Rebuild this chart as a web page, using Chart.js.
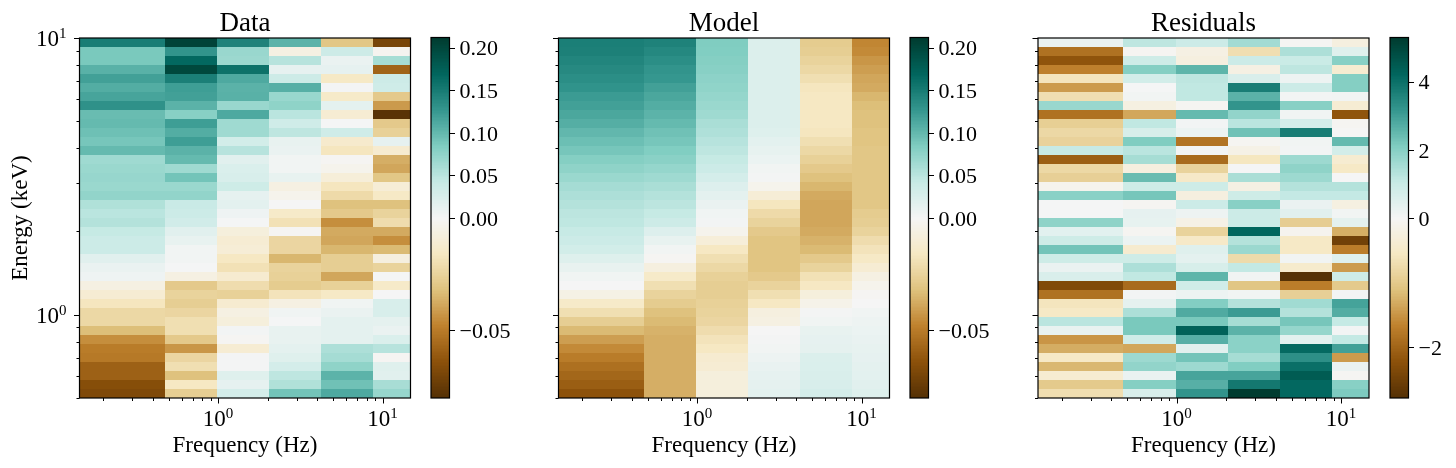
<!DOCTYPE html>
<html>
<head>
<meta charset="utf-8">
<title>Energy-frequency spectra</title>
<script src="https://cdn.jsdelivr.net/npm/chart.js@4/dist/chart.umd.min.js"></script>
<style>
    body { margin: 0; background: #fff; width: 1456px; height: 468px; position: relative; overflow: hidden; }
    canvas { position: absolute; top: 0; }
</style>
</head>
<body>
<canvas id="dataChart" width="425" height="468" style="left:0"></canvas>
<canvas id="dataBar" width="125" height="468" style="left:425px"></canvas>
<canvas id="modelChart" width="360" height="468" style="left:545px"></canvas>
<canvas id="modelBar" width="125" height="468" style="left:905px"></canvas>
<canvas id="residChart" width="345" height="468" style="left:1030px"></canvas>
<canvas id="residBar" width="76" height="468" style="left:1380px"></canvas>
<script>
// Bin edges of the spectra
const freqEdges = [0.1435, 0.474, 0.983, 2.04, 4.23, 8.76, 14.74];
const energyEdges = [10, 9.2794, 8.6098, 7.9885, 7.412, 6.8771, 6.3809, 5.9204, 5.4932, 5.0968,
    4.729, 4.3877, 4.0711, 3.7774, 3.5048, 3.2519, 3.0172, 2.7995, 2.5975, 2.41,
    2.2361, 2.0747, 1.925, 1.7861, 1.6572, 1.5377, 1.4267, 1.3237, 1.2282, 1.1396,
    1.0574, 0.9811, 0.9103, 0.8446, 0.7836, 0.7271, 0.6746, 0.6259, 0.5808, 0.5389, 0.5];

// Axis ticks
const freqTicks = [0.2, 0.3, 0.4, 0.5, 0.6, 0.7, 0.8, 0.9, 1, 2, 3, 4, 5, 6, 7, 8, 9, 10];
const energyTicks = [0.5, 0.6, 0.7, 0.8, 0.9, 1, 2, 3, 4, 5, 6, 7, 8, 9, 10];
const lagTicks = [-0.05, 0, 0.05, 0.1, 0.15, 0.2];
const lagTickLabels = ['\u22120.05', '0.00', '0.05', '0.10', '0.15', '0.20'];
const residTicks = [-2, 0, 2, 4];
const residTickLabels = ['\u22122', '0', '2', '4'];
const powerExponents = { 1: '0', 10: '1' };

// Colour limits
const lagRange = [-0.0804, 0.212];
const residRange = [-2.79, 5.3];

// One row per energy bin, highest energy first, one column per frequency bin
const dataValues = [
    [0.15, 0.205, 0.145, 0.105, -0.03, -0.07],
    [0.088, 0.13, 0.07, -0.006, 0.037, -0.002],
    [0.088, 0.168, 0.068, 0.052, 0.01, 0.062],
    [0.107, 0.2, 0.16, 0.014, 0.014, -0.058],
    [0.12, 0.148, 0.113, 0.037, -0.015, 0.037],
    [0.11, 0.122, 0.106, 0.108, 0.002, 0.035],
    [0.117, 0.12, 0.107, 0.07, -0.014, -0.029],
    [0.132, 0.106, 0.07, 0.076, 0.016, -0.042],
    [0.098, 0.08, 0.113, 0.05, -0.011, -0.079],
    [0.1, 0.122, 0.066, 0.035, 0.001, -0.029],
    [0.095, 0.11, 0.066, 0.048, 0.035, -0.026],
    [0.09, 0.122, 0.032, 0.012, -0.013, 0.014],
    [0.1, 0.106, 0.052, 0.01, -0.017, -0.012],
    [0.066, 0.1, 0.018, 0.004, -0.001, -0.037],
    [0.069, 0.066, 0.025, 0.004, -0.003, -0.039],
    [0.071, 0.092, 0.027, 0.012, -0.009, -0.03],
    [0.069, 0.069, 0.036, -0.006, -0.017, -0.01],
    [0.074, 0.074, 0.014, -0.003, -0.022, -0.015],
    [0.056, 0.041, 0.017, 0, -0.032, -0.032],
    [0.05, 0.038, 0.006, -0.014, -0.029, -0.025],
    [0.054, 0.033, 0.001, -0.019, -0.045, -0.021],
    [0.043, 0.018, -0.008, -0.001, -0.038, -0.038],
    [0.038, 0.012, -0.011, -0.024, -0.039, -0.045],
    [0.038, 0.004, -0.01, -0.024, -0.035, -0.034],
    [0.018, 0.004, -0.016, -0.035, -0.027, -0.007],
    [0.01, 0.001, -0.019, -0.025, -0.027, -0.025],
    [0.006, -0.006, -0.012, -0.026, -0.039, 0.001],
    [-0.006, -0.029, -0.021, -0.028, -0.026, -0.014],
    [-0.011, -0.025, -0.026, -0.018, -0.015, 0],
    [-0.017, -0.027, -0.012, -0.006, 0.005, 0.027],
    [-0.023, -0.024, -0.006, 0.005, 0.01, 0.027],
    [-0.023, -0.02, -0.008, 0.001, 0.016, 0.015],
    [-0.033, -0.02, 0.003, 0.012, 0.016, 0.01],
    [-0.045, -0.029, -0.001, 0.012, 0.016, 0.025],
    [-0.05, -0.043, -0.011, 0.016, 0.058, 0.052],
    [-0.051, -0.024, 0.002, 0.02, 0.063, -0.001],
    [-0.059, -0.02, 0.002, 0.03, 0.076, 0.02],
    [-0.059, -0.032, 0.02, 0.048, 0.105, 0.018],
    [-0.066, -0.016, 0.014, 0.056, 0.094, 0.061],
    [-0.068, -0.027, 0.03, 0.092, 0.113, 0.071]
];

const modelValues = [
    [0.148, 0.145, 0.085, 0.023, -0.028, -0.047],
    [0.147, 0.14, 0.084, 0.023, -0.027, -0.046],
    [0.143, 0.135, 0.082, 0.023, -0.025, -0.043],
    [0.139, 0.13, 0.08, 0.023, -0.023, -0.041],
    [0.135, 0.127, 0.077, 0.023, -0.02, -0.039],
    [0.131, 0.12, 0.075, 0.023, -0.017, -0.038],
    [0.124, 0.115, 0.072, 0.023, -0.016, -0.035],
    [0.12, 0.11, 0.069, 0.023, -0.016, -0.033],
    [0.115, 0.105, 0.066, 0.023, -0.016, -0.032],
    [0.109, 0.1, 0.06, 0.023, -0.016, -0.032],
    [0.102, 0.094, 0.057, 0.021, -0.017, -0.031],
    [0.096, 0.09, 0.052, 0.017, -0.02, -0.031],
    [0.09, 0.084, 0.048, 0.013, -0.023, -0.03],
    [0.082, 0.079, 0.043, 0.009, -0.026, -0.03],
    [0.076, 0.072, 0.038, 0.004, -0.029, -0.03],
    [0.069, 0.066, 0.03, 0.002, -0.032, -0.03],
    [0.063, 0.06, 0.022, -0.003, -0.035, -0.03],
    [0.058, 0.054, 0.016, -0.01, -0.038, -0.03],
    [0.054, 0.049, 0.01, -0.017, -0.039, -0.03],
    [0.049, 0.043, 0.005, -0.022, -0.039, -0.028],
    [0.047, 0.037, 0.003, -0.025, -0.039, -0.027],
    [0.042, 0.022, -0.003, -0.029, -0.038, -0.025],
    [0.038, 0.012, -0.009, -0.031, -0.036, -0.021],
    [0.032, 0.004, -0.016, -0.031, -0.034, -0.018],
    [0.021, -0.001, -0.02, -0.031, -0.029, -0.015],
    [0.012, -0.007, -0.023, -0.031, -0.025, -0.011],
    [0.005, -0.014, -0.026, -0.029, -0.019, -0.006],
    [0, -0.02, -0.027, -0.025, -0.016, -0.003],
    [-0.005, -0.025, -0.027, -0.02, -0.008, -0.001],
    [-0.014, -0.028, -0.026, -0.016, -0.004, 0],
    [-0.02, -0.032, -0.025, -0.007, 0.002, 0.005],
    [-0.027, -0.034, -0.024, -0.006, 0.005, 0.007],
    [-0.034, -0.036, -0.021, 0, 0.012, 0.009],
    [-0.041, -0.037, -0.018, 0.002, 0.014, 0.011],
    [-0.046, -0.037, -0.016, 0.004, 0.015, 0.013],
    [-0.05, -0.037, -0.012, 0.007, 0.024, 0.014],
    [-0.054, -0.037, -0.011, 0.011, 0.025, 0.016],
    [-0.057, -0.037, -0.008, 0.014, 0.026, 0.017],
    [-0.06, -0.037, -0.008, 0.015, 0.027, 0.018],
    [-0.064, -0.037, -0.008, 0.017, 0.03, 0.021]
];

const residValues = [
    [0.25, 1.2, 0.95, 1.6, -0.03, -0.25],
    [-1.85, -0.05, -0.2, -0.7, 1.45, 0.5],
    [-2.2, 0.9, -0.25, 0.95, 1, 2],
    [-1.68, 2.05, 2.6, -0.2, 1.2, -0.4],
    [-0.6, 0.8, 1.2, 0.65, 0.18, 2.05],
    [-1.45, 0.03, 1.15, 3.75, 0.95, 2.05],
    [-0.7, 0.1, 1.15, 2.65, 0.08, 0.1],
    [1.75, -0.22, -0.05, 3.25, 2, -0.38],
    [-1.85, -1.35, 2.5, 1.85, 0.12, -2.2],
    [-0.93, 1.15, 0.08, 1.25, 0.75, -0.05],
    [-0.8, 0.7, 0.2, 2.35, 3.75, -0.01],
    [-0.88, 2.12, -1.82, -0.05, 0.1, 2.5],
    [1.05, 1.25, 0.08, -0.17, 0.08, 0.78],
    [-2.07, 1.55, -1.93, -0.58, 1.68, -0.4],
    [-0.8, -0.25, -0.87, 0.02, 1.9, -0.52],
    [-0.92, 2.45, -0.5, 1.5, 1.68, 0],
    [-0.1, 0.9, 0.9, -0.2, 1.35, 1.35],
    [1.97, 2.25, -0.25, 0.9, 1.1, 1.1],
    [0.02, -0.05, 0.95, 2, 0.25, -0.22],
    [0.02, 0.35, 0.18, 0.95, 0.45, 0.1],
    [1.9, 0.32, -0.17, 0.95, -0.95, 0.4],
    [0.43, -0.05, -0.87, 4.25, -0.08, -1.28],
    [0.9, 0.22, -0.5, 1.35, -0.52, -2.5],
    [2.3, -0.42, 0.5, 1.72, -0.52, -1.72],
    [0.9, 0.9, 0.4, -0.75, 0.1, 0.5],
    [0.25, 1.45, 0.7, 1.1, -0.45, -1.45],
    [0.65, 1.15, 2.6, 0.1, -2.78, 0.9],
    [-2.35, -1.93, 0.85, -1.06, -1.72, -1],
    [-1.85, 0.07, 0.2, 0.1, -0.92, 0.08],
    [-0.6, 0.37, 2.07, 1.35, 1.62, 2.95],
    [-0.52, 1.45, 2.8, 3.1, 1.35, 2.75],
    [1.25, 2.2, 2.2, 1.55, 2.25, 1.07],
    [0.3, 2.2, 4.35, 2.65, 1.8, 0.08],
    [-1.5, 0.88, 2.7, 1.95, 0.43, 1.1],
    [-1.3, -1.35, 0.47, 1.95, 4.18, 3],
    [-0.52, 1.68, 2.3, 1.55, 3.35, -1.45],
    [-1.2, 1.85, 1.68, 2.1, 4.05, 0.25],
    [-0.4, 0.25, 2.92, 2.92, 4.5, -0.03],
    [-1, 2.05, 2.7, 3.85, 4.2, 2],
    [-0.7, 0.65, 3.25, 5.3, 4.2, 2.15]
];

// BrBG colormap anchors
const brbgColors = [
    [84, 48, 5], [140, 81, 10], [191, 129, 45], [223, 194, 125], [246, 232, 195], [245, 245, 245],
    [199, 234, 229], [128, 205, 193], [53, 151, 143], [1, 102, 94], [0, 60, 48]
];

const SERIF = '"Liberation Serif", serif';
const INK = '#000';

function brbg(t) {
    const pos = Math.min(Math.max(t, 0), 1) * (brbgColors.length - 1);
    const i = Math.min(Math.floor(pos), brbgColors.length - 2);
    const f = pos - i;
    const c = brbgColors[i].map((a, k) => Math.round(a + (brbgColors[i + 1][k] - a) * f));
    return `rgb(${c[0]},${c[1]},${c[2]})`;
}

// Two-slope normalisation, zero sits in the middle of the colour range
function twoSlope(v, range) {
    return v < 0 ? 0.5 - 0.5 * v / range[0] : 0.5 + 0.5 * v / range[1];
}

// Tick marks are drawn by hand so major and minor ones can differ in length
function drawTicks(chart, scale) {
    const { ctx, chartArea } = chart;
    ctx.save();
    ctx.strokeStyle = INK;
    ctx.lineWidth = 1;
    scale.ticks.forEach(tick => {
        const len = tick.major ? 5.5 : 3;
        const p = Math.round(scale.getPixelForValue(tick.value)) + 0.5;
        ctx.beginPath();
        if (scale.axis === 'x') {
            ctx.moveTo(p, chartArea.bottom);
            ctx.lineTo(p, chartArea.bottom + len);
        } else if (scale.position === 'left') {
            ctx.moveTo(chartArea.left, p);
            ctx.lineTo(chartArea.left - len, p);
        } else {
            ctx.moveTo(chartArea.right, p);
            ctx.lineTo(chartArea.right + len, p);
        }
        ctx.stroke();
    });
    ctx.restore();
}

function drawFrame(chart) {
    const { ctx, chartArea } = chart;
    ctx.save();
    ctx.strokeStyle = INK;
    ctx.lineWidth = 1.2;
    ctx.strokeRect(chartArea.left, chartArea.top, chartArea.right - chartArea.left, chartArea.bottom - chartArea.top);
    ctx.restore();
}

// 10^n labels, the tick callback can't do a raised exponent
function drawPowerLabels(chart, scale) {
    const { ctx } = chart;
    ctx.save();
    ctx.fillStyle = INK;
    ctx.textBaseline = 'alphabetic';
    ctx.textAlign = 'left';
    scale.ticks.filter(tick => tick.major).forEach(tick => {
        const p = scale.getPixelForValue(tick.value);
        const left = scale.axis === 'x' ? p - 15.5 : 36;
        const base = scale.axis === 'x' ? 426 : p + 8;
        ctx.font = `23px ${SERIF}`;
        ctx.fillText('10', left, base);
        ctx.font = `15px ${SERIF}`;
        ctx.fillText(powerExponents[tick.value], left + 23, base - 8);
    });
    ctx.restore();
}

// Paints each cell of the scatter dataset as a rectangle between its bin edges
const meshPlugin = {
    id: 'mesh',
    afterDatasetsDraw(chart) {
        const { ctx, scales: { x, y } } = chart;
        const range = chart.options.plugins.mesh.range;
        chart.data.datasets[0].data.forEach(cell => {
            const left = Math.round(x.getPixelForValue(cell.x0));
            const right = Math.round(x.getPixelForValue(cell.x1));
            const top = Math.round(y.getPixelForValue(cell.y1));
            const bottom = Math.round(y.getPixelForValue(cell.y0));
            ctx.fillStyle = brbg(twoSlope(cell.v, range));
            ctx.fillRect(left, top, right - left, bottom - top);
        });
    },
    afterDraw(chart) {
        const { x, y } = chart.scales;
        drawTicks(chart, x);
        drawTicks(chart, y);
        drawFrame(chart);
        drawPowerLabels(chart, x);
        if (chart.options.plugins.mesh.energyLabels) drawPowerLabels(chart, y);
    }
};

// Colour strip next to each panel, 256 levels like the colormap
const stripPlugin = {
    id: 'strip',
    afterDatasetsDraw(chart) {
        const { ctx, chartArea, scales: { y } } = chart;
        for (let i = 0; i < 256; i++) {
            const top = y.getPixelForValue((i + 1) / 256);
            const bottom = y.getPixelForValue(i / 256);
            ctx.fillStyle = brbg(i / 255);
            ctx.fillRect(chartArea.left, Math.floor(top), chartArea.right - chartArea.left, Math.ceil(bottom) - Math.floor(top));
        }
    },
    afterDraw(chart) {
        drawTicks(chart, chart.scales.y);
        drawFrame(chart);
    }
};

function toCells(rows) {
    const cells = [];
    rows.forEach((row, r) => {
        row.forEach((v, c) => {
            const x0 = freqEdges[c], x1 = freqEdges[c + 1];
            const y1 = energyEdges[r], y0 = energyEdges[r + 1];
            cells.push({ x: Math.sqrt(x0 * x1), y: Math.sqrt(y0 * y1), x0, x1, y0, y1, v });
        });
    });
    return cells;
}

function setTicks(values) {
    return scale => {
        scale.ticks = values.map(v => ({ value: v, major: v === 1 || v === 10 }));
    };
}

function makePanel(id, name, rows, range, chartLeft, withEnergyAxis) {
    const canvas = document.getElementById(id);
    return new Chart(canvas, {
        type: 'scatter',
        data: { datasets: [{ label: name, data: toCells(rows), pointRadius: 0 }] },
        options: {
            responsive: false,
            animation: false,
            events: [],
            layout: { padding: { left: 0, right: canvas.width - chartLeft - 331, top: 0, bottom: 0 } },
            plugins: {
                legend: { display: false },
                tooltip: { enabled: false },
                mesh: { range, energyLabels: withEnergyAxis },
                title: {
                    display: true,
                    text: name,
                    fullSize: false,
                    color: INK,
                    font: { family: SERIF, size: 27, weight: 'normal', lineHeight: 1 },
                    padding: { top: 10, bottom: 1 }
                }
            },
            scales: {
                x: {
                    type: 'logarithmic',
                    min: freqEdges[0],
                    max: freqEdges[freqEdges.length - 1],
                    afterBuildTicks: setTicks(freqTicks),
                    afterFit(scale) { scale.height = 70; },
                    grid: { display: false, drawTicks: false },
                    border: { display: false },
                    ticks: { display: false, autoSkip: false },
                    title: {
                        display: true,
                        text: 'Frequency (Hz)',
                        color: INK,
                        font: { family: SERIF, size: 23 },
                        padding: { top: 0, bottom: 8 }
                    }
                },
                y: {
                    type: 'logarithmic',
                    min: energyEdges[energyEdges.length - 1],
                    max: energyEdges[0],
                    afterBuildTicks: setTicks(energyTicks),
                    afterFit(scale) { scale.width = chartLeft; },
                    grid: { display: false, drawTicks: false },
                    border: { display: false },
                    ticks: { display: false, autoSkip: false },
                    title: {
                        display: withEnergyAxis,
                        text: 'Energy (keV)',
                        color: INK,
                        font: { family: SERIF, size: 23 },
                        padding: { top: 7.5, bottom: 0 }
                    }
                }
            }
        },
        plugins: [meshPlugin]
    });
}

function makeStrip(id, range, ticks, labels, stripLeft) {
    const canvas = document.getElementById(id);
    return new Chart(canvas, {
        type: 'scatter',
        data: { datasets: [] },
        options: {
            responsive: false,
            animation: false,
            events: [],
            layout: { padding: { left: stripLeft, right: 0, top: 37.5, bottom: 0 } },
            plugins: { legend: { display: false }, tooltip: { enabled: false } },
            scales: {
                x: {
                    display: true,
                    type: 'linear',
                    min: 0,
                    max: 1,
                    afterFit(scale) { scale.height = 70; },
                    grid: { display: false },
                    border: { display: false },
                    ticks: { display: false }
                },
                y: {
                    type: 'linear',
                    position: 'right',
                    min: 0,
                    max: 1,
                    afterBuildTicks(scale) {
                        scale.ticks = ticks.map(v => ({ value: twoSlope(v, range), major: true }));
                    },
                    afterFit(scale) { scale.width = canvas.width - stripLeft - 18.5; },
                    grid: { display: false, drawTicks: false },
                    border: { display: false },
                    ticks: {
                        autoSkip: false,
                        color: INK,
                        padding: 10,
                        labelOffset: 2,
                        font: { family: SERIF, size: 22 },
                        callback: (v, i) => labels[i]
                    }
                }
            }
        },
        plugins: [stripPlugin]
    });
}

makePanel('dataChart', 'Data', dataValues, lagRange, 79.5, true);
makePanel('modelChart', 'Model', modelValues, lagRange, 13.5, false);
makePanel('residChart', 'Residuals', residValues, residRange, 8, false);

makeStrip('dataBar', lagRange, lagTicks, lagTickLabels, 6);
makeStrip('modelBar', lagRange, lagTicks, lagTickLabels, 5);
makeStrip('residBar', residRange, residTicks, residTickLabels, 10);
</script>
</body>
</html>
